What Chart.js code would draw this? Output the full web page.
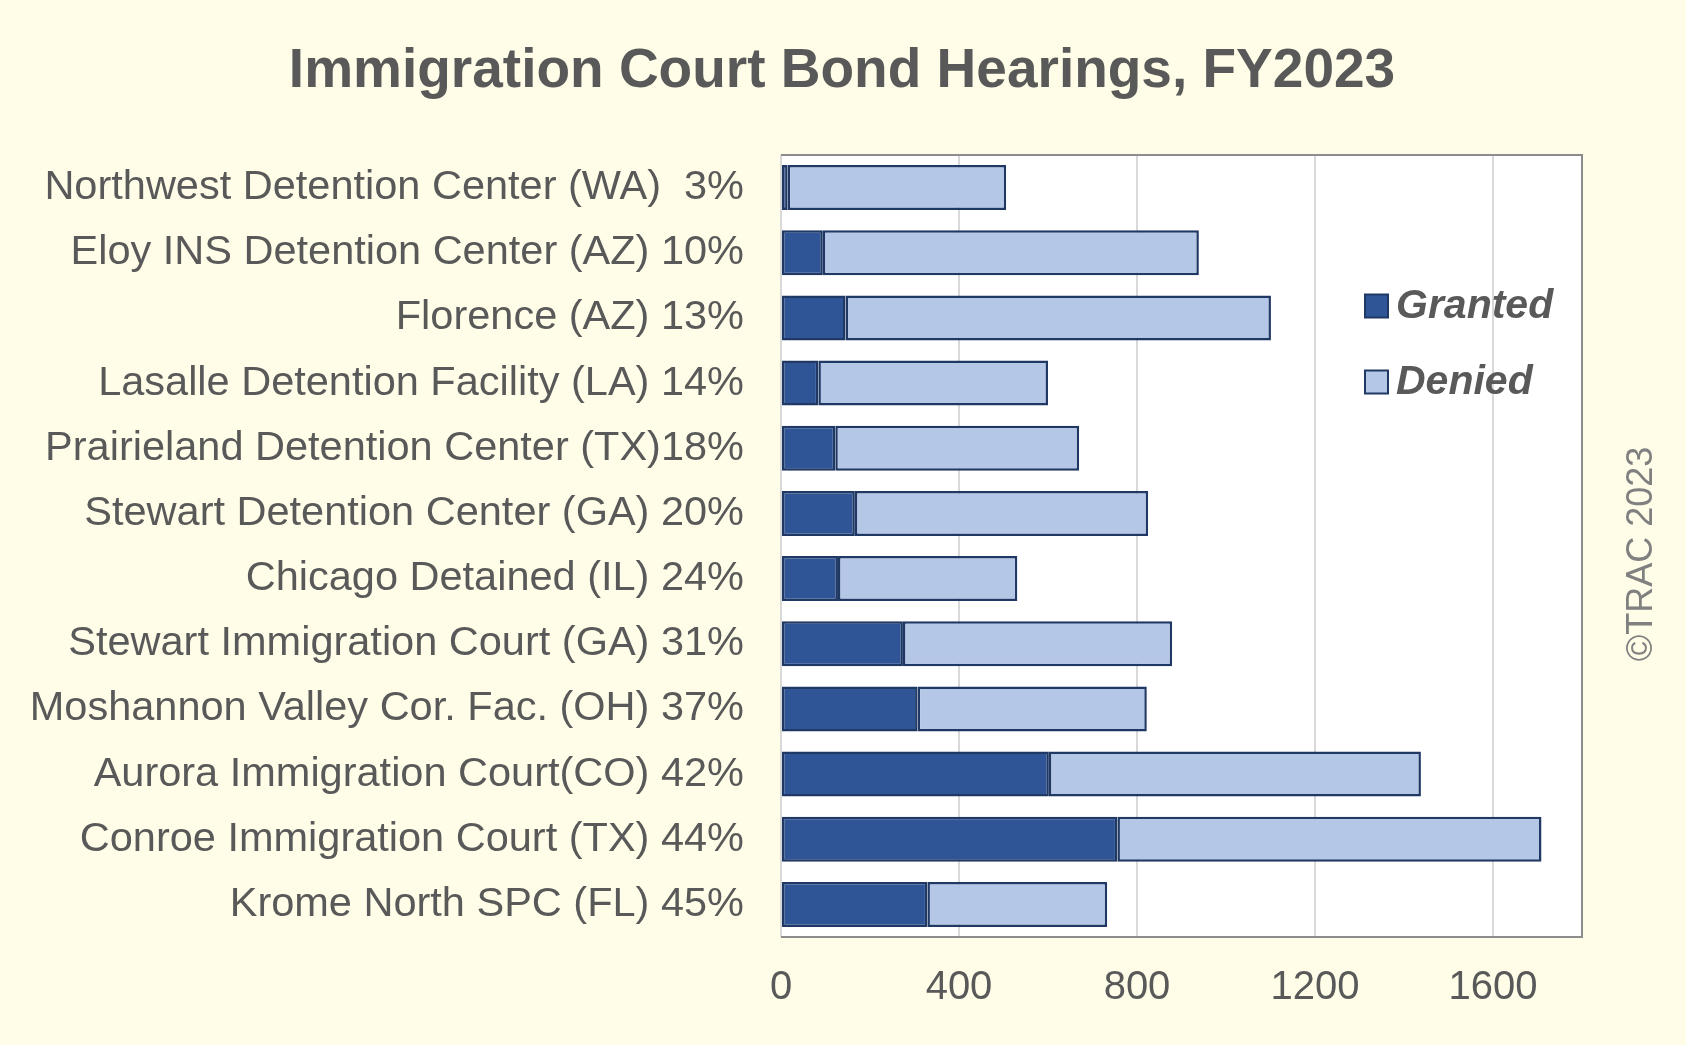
<!DOCTYPE html>
<html><head><meta charset="utf-8">
<script src="https://cdn.jsdelivr.net/npm/chart.js@4.4.0/dist/chart.umd.min.js"></script>
<style>html,body{margin:0;padding:0;background:#FFFDE8;}</style>
</head><body>
<canvas id="c" width="1686" height="1045" style="width:1686px;height:1045px;display:block"></canvas>
<script>
const titleText = 'Immigration Court Bond Hearings, FY2023';
const watermarkText = '\u00A9TRAC 2023';
const categories = [
  'Northwest Detention Center (WA)  3%',
  'Eloy INS Detention Center (AZ) 10%',
  'Florence (AZ) 13%',
  'Lasalle Detention Facility (LA) 14%',
  'Prairieland Detention Center (TX)18%',
  'Stewart Detention Center (GA) 20%',
  'Chicago Detained (IL) 24%',
  'Stewart Immigration Court (GA) 31%',
  'Moshannon Valley Cor. Fac. (OH) 37%',
  'Aurora Immigration Court(CO) 42%',
  'Conroe Immigration Court (TX) 44%',
  'Krome North SPC (FL) 45%'
];
const granted = [15, 94, 145, 84, 122, 166, 128, 274, 307, 602, 756, 329];
const denied  = [491, 845, 956, 516, 548, 659, 403, 605, 515, 836, 953, 404];
const seriesNames = ['Granted', 'Denied'];
const xTickValues = [0, 400, 800, 1200, 1600];
const xMax = 1800;

const FONT = "'Liberation Sans', Arial, sans-serif";
const TEXT = '#595959';

const bgPlugin = {
  id: 'bg',
  beforeDraw(chart) {
    const {ctx, chartArea: a} = chart;
    ctx.save();
    ctx.fillStyle = '#FFFDE8';
    ctx.fillRect(0, 0, chart.width, chart.height);
    ctx.fillStyle = '#FFFFFF';
    ctx.fillRect(a.left, a.top, a.right - a.left, a.bottom - a.top);
    ctx.restore();
  },
  afterDatasetsDraw(chart) {
    const {ctx, chartArea: a} = chart;
    ctx.save();
    ctx.strokeStyle = '#8C8C8C';
    ctx.lineWidth = 2;
    ctx.beginPath();
    ctx.moveTo(a.left, a.top); ctx.lineTo(a.right, a.top);
    ctx.lineTo(a.right, a.bottom); ctx.lineTo(a.left, a.bottom);
    ctx.stroke();
    ctx.restore();
  },
  afterDraw(chart) {
    const ctx = chart.ctx;
    ctx.save();
    // title
    ctx.fillStyle = TEXT;
    ctx.font = "bold 55px " + FONT;
    ctx.textAlign = 'center';
    ctx.textBaseline = 'alphabetic';
    ctx.fillText(titleText, 842, 87);
    // legend inside plot
    const ds = chart.data.datasets;
    const lx = 1365, ly = [306, 382], box = 23;
    ds.forEach((d, i) => {
      ctx.fillStyle = d.backgroundColor;
      ctx.strokeStyle = d.borderColor;
      ctx.lineWidth = 2;
      ctx.fillRect(lx, ly[i] - box / 2, box, box);
      ctx.strokeRect(lx, ly[i] - box / 2, box, box);
      ctx.fillStyle = TEXT;
      ctx.font = "italic bold 41px " + FONT;
      ctx.textBaseline = 'middle';
      ctx.textAlign = 'left';
      ctx.fillText(d.label, lx + box + 8, ly[i] + 1);
    });
    // watermark
    ctx.translate(1642, 554);
    ctx.rotate(-Math.PI / 2);
    ctx.fillStyle = '#808080';
    ctx.font = "36px " + FONT;
    ctx.textAlign = 'center';
    ctx.textBaseline = 'middle';
    ctx.fillText(watermarkText, 0, 0);
    ctx.restore();
  }
};

new Chart(document.getElementById('c'), {
  type: 'bar',
  data: {
    labels: categories,
    datasets: [
      { label: seriesNames[0], data: granted, backgroundColor: '#2F5597', borderColor: '#1F3864', borderWidth: 2.5, borderSkipped: false, barPercentage: 0.69, categoryPercentage: 1 },
      { label: seriesNames[1], data: denied, backgroundColor: '#B4C7E7', borderColor: '#1F3864', borderWidth: 2.5, borderSkipped: false, barPercentage: 0.69, categoryPercentage: 1 }
    ]
  },
  options: {
    indexAxis: 'y',
    responsive: false,
    animation: false,
    layout: { padding: { left: 0, right: 104, top: 155, bottom: 0 } },
    plugins: {
      legend: { display: false },
      tooltip: { enabled: false },
      title: { display: false }
    },
    scales: {
      x: {
        stacked: true, min: 0, max: xMax,
        afterBuildTicks(scale) { scale.ticks = xTickValues.map(v => ({ value: v })); },
        afterFit(scale) { scale.height = 108; },
        grid: { color: '#D9D9D9', lineWidth: 2, drawTicks: false },
        border: { display: false },
        ticks: { color: TEXT, font: { family: FONT, size: 40 }, padding: 27, callback: v => String(v) }
      },
      y: {
        stacked: true,
        afterFit(scale) { scale.width = 781; },
        grid: { display: false, drawTicks: false },
        border: { display: false },
        ticks: { color: TEXT, font: { family: FONT, size: 41.5 }, padding: 37, autoSkip: false }
      }
    }
  },
  plugins: [bgPlugin]
});
</script>
</body></html>
